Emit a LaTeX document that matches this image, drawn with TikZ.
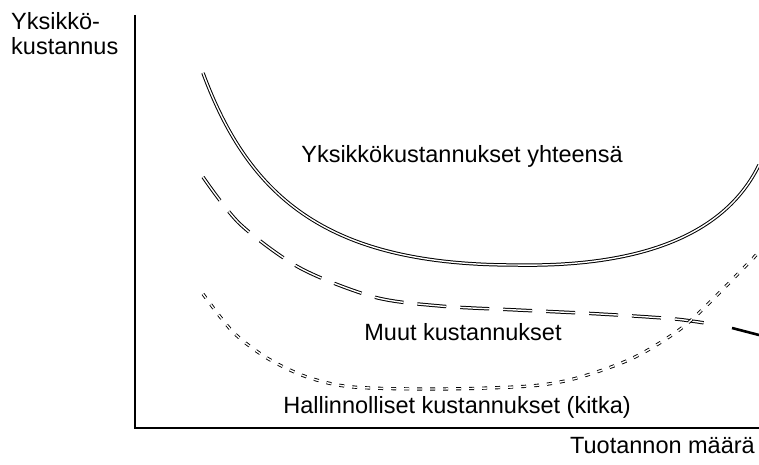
\documentclass[tikz,border=0pt]{standalone}
\usepackage{fontspec}
\setmainfont{Liberation Sans}
\begin{document}
\begin{tikzpicture}[x=1pt,y=-1pt,
  lbl/.style={inner sep=0pt,font=\fontsize{23.5}{27}\selectfont},
  axisline/.style={line width=1.4pt},
  curve/.style={draw=black,double=white,line width=1pt,double distance=1.4pt},
  dashcurve/.style={curve,dash pattern=on 29pt off 14pt},
  dotcurve/.style={draw=black,double=white,line width=0.9pt,double distance=1.4pt,dash pattern=on 5pt off 8pt}]
\useasboundingbox (0,0) rectangle (759,465);
% axes
\coordinate (top) at (135,15);
\coordinate (origin) at (135,428);
\coordinate (right) at (759,428);
\draw[axisline] (top) -- (origin) -- (right);
% total unit cost
\draw[curve] (203,73) .. controls (250,200) and (330,265) .. (515,265)
  .. controls (620,267) and (720,245) .. (759,165);
% other costs (dashed)
\draw[dashcurve] plot[smooth] coordinates {(203,177) (240,224) (300,268) (374,297) (440,306) (517,310) (600,314) (675,319) (717,325)};
\draw[line width=2.6pt] (732,328) -- (759,335);
% administrative costs (dotted)
\draw[dotcurve] plot[smooth] coordinates {(203,294) (233,332) (267,358) (307,377) (353,387) (440,389) (530,386) (577,378) (633,358) (683,327) (727,285) (759,252)};
% labels
\node[lbl,anchor=base west] (ylab1) at (11,30) {Yksikkö-};
\node[lbl,anchor=base west] (ylab2) at (11,55) {kustannus};
\node[lbl,anchor=base] (ltotal) at (462,162) {Yksikkökustannukset yhteensä};
\node[lbl,anchor=base] (lother) at (463,340) {Muut kustannukset};
\node[lbl,anchor=base] (ladmin) at (457,413) {Hallinnolliset kustannukset (kitka)};
\node[lbl,anchor=base east] (xlab) at (755,453) {Tuotannon määrä};
\end{tikzpicture}
\end{document}
